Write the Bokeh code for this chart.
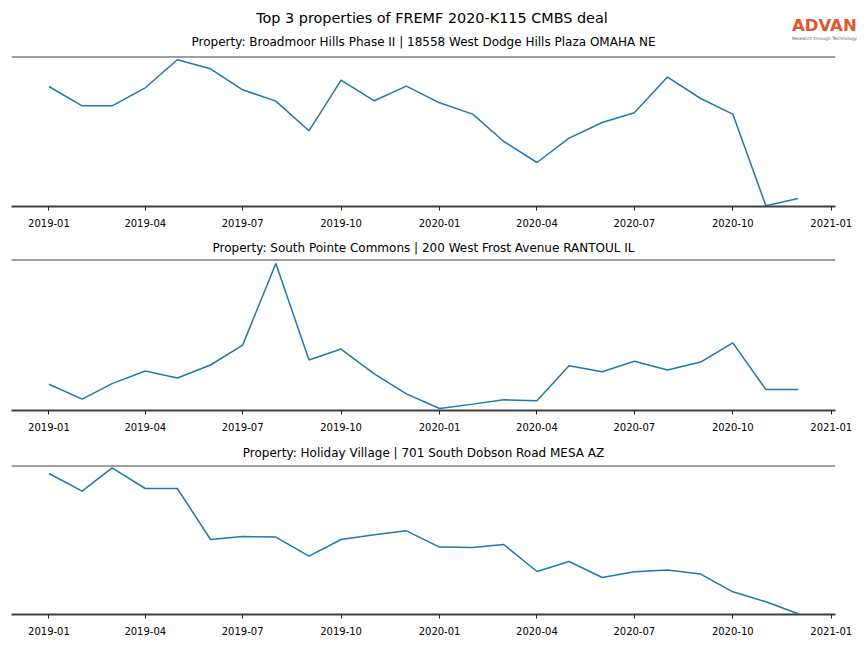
from datetime import datetime
from bokeh.plotting import figure
from bokeh.layouts import column
from bokeh.models import Range1d, FixedTicker, Span, Div
from bokeh.embed import file_html
from bokeh.resources import INLINE

# ---------------- data ----------------
months = ["2019-01", "2019-02", "2019-03", "2019-04", "2019-05", "2019-06",
          "2019-07", "2019-08", "2019-09", "2019-10", "2019-11", "2019-12",
          "2020-01", "2020-02", "2020-03", "2020-04", "2020-05", "2020-06",
          "2020-07", "2020-08", "2020-09", "2020-10", "2020-11", "2020-12"]

broadmoor = [120.0, 100.7, 100.7, 118.7, 146.7, 137.7, 116.7, 105.4, 75.7, 126.4, 105.7, 120.4,
             103.7, 92.4, 65.0, 44.0, 68.4, 84.0, 93.7, 129.4, 108.0, 92.4, 0.7, 8.0]
south_pointe = [26.4, 11.4, 27.0, 39.7, 32.7, 45.7, 65.7, 147.7, 50.7, 61.7, 36.7, 16.7,
                2.0, 6.4, 10.7, 9.7, 45.0, 39.0, 49.4, 40.7, 48.7, 68.0, 21.0, 21.0]
holiday = [141.0, 123.4, 146.7, 126.0, 126.0, 75.0, 78.0, 77.4, 58.4, 75.0, 79.7, 83.7,
           67.4, 67.0, 70.0, 43.0, 53.0, 37.0, 42.7, 44.4, 40.4, 22.7, 12.7, 0.7]

series = [broadmoor, south_pointe, holiday]
y_tops = [150.0, 151.7, 149.0]
subtitles = [
    "Property: Broadmoor Hills Phase II | 18558 West Dodge Hills Plaza OMAHA NE",
    "Property: South Pointe Commons | 200 West Frost Avenue RANTOUL IL",
    "Property: Holiday Village | 701 South Dobson Road MESA AZ",
]
tick_labels = ["2019-01", "2019-04", "2019-07", "2019-10", "2020-01",
               "2020-04", "2020-07", "2020-10", "2021-01"]
main_title = "Top 3 properties of FREMF 2020-K115 CMBS deal"
logo_text = "ADVAN"
logo_sub = "Research through Technology"

# ---------------- helpers ----------------
def to_dt(s):
    return datetime.strptime(s, "%Y-%m")

def to_ms(d):
    return (d - datetime(1970, 1, 1)).total_seconds() * 1000.0

dates = [to_dt(m) for m in months]
tick_ms = [to_ms(to_dt(t)) for t in tick_labels]
pad = (dates[-1] - dates[0]) * 0.05
x_range = Range1d(dates[0] - pad, dates[-1] + pad)

FONT = "DejaVu Sans"
SPINE = "#404040"
LINE = "#1f77b4"
W = 856
LEFT, RIGHT = 11, 21

# ---------------- header (main title, first subtitle, logo) ----------------
HH = 50
span_css = "position:absolute;white-space:nowrap;line-height:1;margin:0;padding:0;"
header_html = (
    f'<div style="position:relative;width:862px;height:{HH}px;font-family:\'{FONT}\';color:black;">'
    f'<div style="{span_css}left:0px;width:864px;top:11px;text-align:center;font-size:14.4px;">{main_title}</div>'
    f'<div style="{span_css}left:0px;width:847px;top:36px;text-align:center;font-size:12px;">{subtitles[0]}</div>'
    f'<div style="{span_css}left:792px;top:18px;font-size:16.5px;font-weight:bold;color:#e4572e;">{logo_text}</div>'
    f'<div style="{span_css}left:792px;top:36.5px;font-size:4.4px;color:#666666;">{logo_sub}</div>'
    '</div>'
)
header = Div(text=header_html, width=862, height=HH,
             styles={"margin": "0", "padding": "0", "overflow": "visible"})

# (top border, frame height, bottom border, title standoff)
layout_rows = [(6, 150, 27, 0), (26, 151, 27, 10), (28, 149, 26, 12)]

figs = [header]
for i, (vals, ytop, sub, (tb, fh, bb, so)) in enumerate(zip(series, y_tops, subtitles, layout_rows)):
    p = figure(width=W, height=tb + fh + bb, x_axis_type="datetime",
               x_range=x_range, y_range=Range1d(0, ytop),
               output_backend="svg", toolbar_location=None,
               y_axis_location=None,
               min_border_left=LEFT, min_border_right=RIGHT,
               min_border_top=tb, min_border_bottom=bb)
    p.outline_line_color = None
    p.xgrid.visible = False
    p.ygrid.visible = False

    p.line(dates, vals, line_color=LINE, line_width=1.5)

    ax = p.xaxis[0]
    ax.ticker = FixedTicker(ticks=tick_ms)
    ax.major_label_overrides = {ms: lab for ms, lab in zip(tick_ms, tick_labels)}
    ax.axis_line_color = SPINE
    ax.axis_line_width = 2
    ax.major_tick_line_color = "#222222"
    ax.major_tick_line_width = 1
    ax.major_tick_out = 4
    ax.major_tick_in = 0
    ax.minor_tick_line_color = None
    ax.major_label_standoff = 8
    ax.major_label_text_font = FONT
    ax.major_label_text_font_size = "10px"
    ax.major_label_text_color = "black"

    p.add_layout(Span(location=ytop, dimension="width", line_color=SPINE, line_width=2))

    if i == 0:
        p.title.text = ""
        p.title.visible = False
    else:
        p.title.text = sub
        p.title.text_font = FONT
        p.title.text_font_size = "12px"
        p.title.text_font_style = "normal"
        p.title.align = "center"
        p.title.standoff = so
        p.title.text_color = "black"
    figs.append(p)

layout = column(*figs, spacing=0)
open("out.html", "w").write(file_html(layout, INLINE))
